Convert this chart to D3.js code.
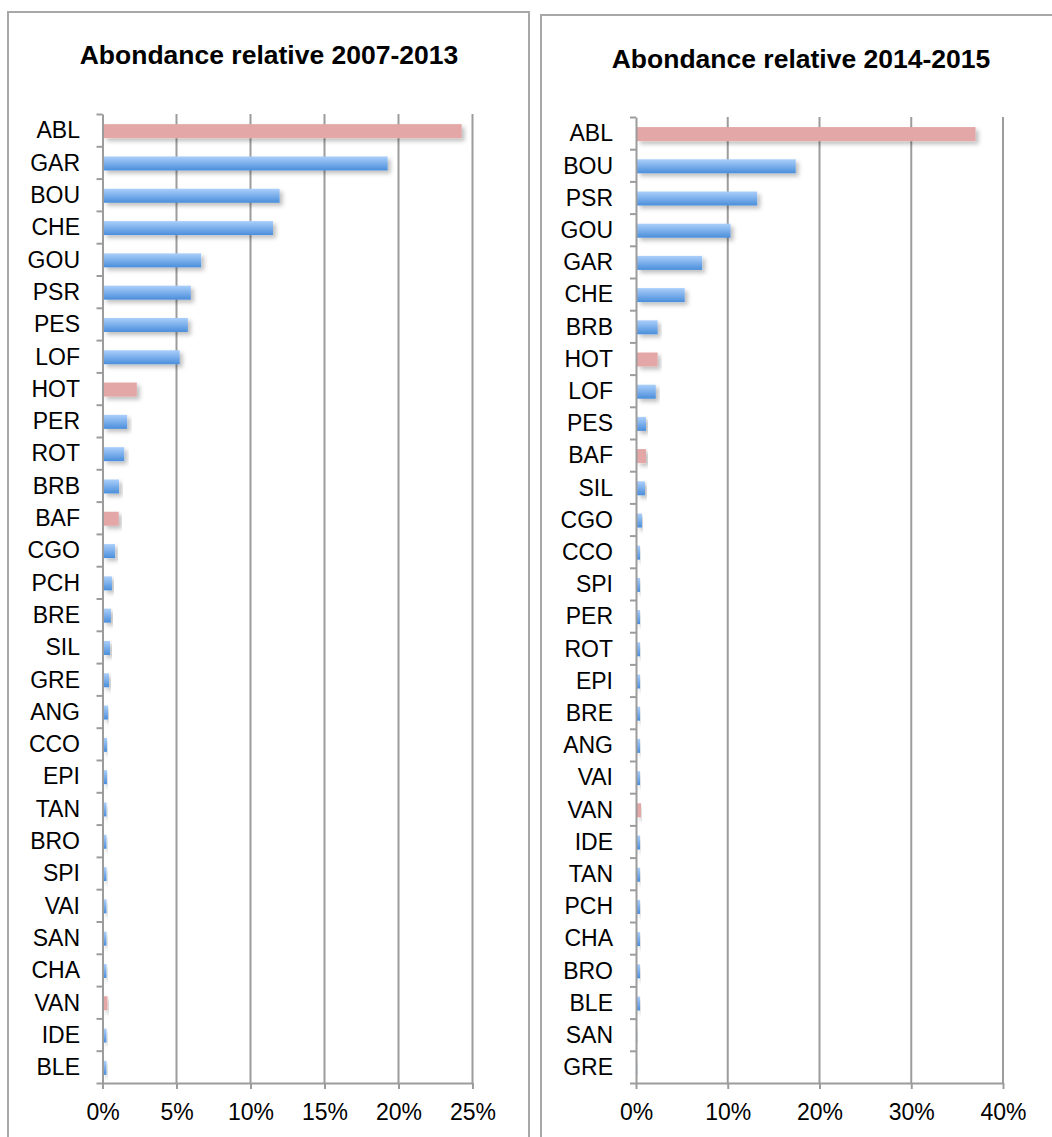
<!DOCTYPE html>
<html><head><meta charset="utf-8">
<script src="https://cdn.jsdelivr.net/npm/d3@7"></script>
<style>body{margin:0;background:#fff}svg{display:block}</style></head>
<body><svg id="c" width="1052" height="1137"></svg>
<script>
// ---- data (values in %) ----
const title1 = "Abondance relative 2007-2013";
const cats1 = ["ABL","GAR","BOU","CHE","GOU","PSR","PES","LOF","HOT","PER","ROT","BRB","BAF","CGO","PCH","BRE","SIL","GRE","ANG","CCO","EPI","TAN","BRO","SPI","VAI","SAN","CHA","VAN","IDE","BLE"];
const vals1 = [24.2,19.2,11.9,11.45,6.6,5.9,5.7,5.15,2.25,1.6,1.4,1.05,1.03,0.78,0.57,0.5,0.44,0.37,0.3,0.24,0.24,0.2,0.2,0.2,0.2,0.2,0.2,0.27,0.2,0.2];
const red1 = ["ABL","HOT","BAF","VAN"];
const ticks1 = [0,5,10,15,20,25];

const title2 = "Abondance relative 2014-2015";
const cats2 = ["ABL","BOU","PSR","GOU","GAR","CHE","BRB","HOT","LOF","PES","BAF","SIL","CGO","CCO","SPI","PER","ROT","EPI","BRE","ANG","VAI","VAN","IDE","TAN","PCH","CHA","BRO","BLE","SAN","GRE"];
const vals2 = [36.9,17.3,13.1,10.2,7.1,5.2,2.25,2.25,2.05,0.98,0.98,0.87,0.54,0.33,0.33,0.33,0.33,0.33,0.33,0.33,0.33,0.44,0.33,0.33,0.33,0.33,0.33,0.33,0.03,0.03];
const red2 = ["ABL","HOT","BAF","VAN"];
const ticks2 = [0,10,20,30,40];

const svg = d3.select("#c");
const defs = svg.append("defs");
const g = defs.append("linearGradient").attr("id","blueGrad").attr("x1",0).attr("y1",0).attr("x2",0).attr("y2",1);
g.append("stop").attr("offset","0%").attr("stop-color","#abcffb");
g.append("stop").attr("offset","100%").attr("stop-color","#4a8edb");
const f = defs.append("filter").attr("id","shadow").attr("x","-20%").attr("y","-50%").attr("width","140%").attr("height","220%");
f.append("feDropShadow").attr("dx",3).attr("dy",3).attr("stdDeviation",2).attr("flood-color","#000").attr("flood-opacity",0.25);

const GRID = "#9c9c9c";
const FONT = "'Liberation Sans', Arial, Helvetica, sans-serif";

function panel(o){
  svg.append("rect").attr("x",o.bx).attr("y",o.by).attr("width",o.bw).attr("height",1200)
    .attr("fill","none").attr("stroke","#a8a8a8").attr("stroke-width",2);
  svg.append("text").attr("x",o.tx).attr("y",o.ty).attr("text-anchor","middle")
    .attr("font-family",FONT).attr("font-weight","bold").attr("font-size",26.5).text(o.title);

  const x = d3.scaleLinear().domain([0, o.ticks[o.ticks.length-1]]).range([o.x0,o.x1]);
  const y = d3.scaleBand().domain(o.cats).range([o.y0,o.y1]).padding(0);
  const yi = d3.scaleLinear().domain([0,o.cats.length]).range([o.y0,o.y1]);

  svg.append("g").selectAll("line").data(o.ticks.slice(1)).join("line")
    .attr("x1",d=>x(d)).attr("x2",d=>x(d)).attr("y1",o.y0).attr("y2",o.y1)
    .attr("stroke",GRID).attr("stroke-width",2);

  const bh = 14;
  svg.append("g").selectAll("rect").data(o.cats.map((c,i)=>({c,v:o.vals[i]}))).join("rect")
    .attr("x",x(0)+1).attr("y",d=>y(d.c)+y.bandwidth()/2-bh/2+1)
    .attr("width",d=>Math.max(0,x(d.v)-x(0)))
    .attr("height",bh)
    .attr("fill",d=>o.red.includes(d.c)?"#e3a7a7":"url(#blueGrad)")
    .attr("filter","url(#shadow)");

  const ya = svg.append("g").attr("transform",`translate(${o.x0},0)`)
    .call(d3.axisLeft(yi).tickValues(d3.range(o.cats.length+1)).tickSize(6).tickFormat("").tickSizeOuter(0));
  ya.selectAll("path,line").attr("stroke",GRID).attr("stroke-width",2);
  svg.append("g").selectAll("text").data(o.cats).join("text")
    .attr("x",o.lx).attr("y",d=>y(d)+y.bandwidth()/2).attr("dy","0.36em")
    .attr("text-anchor","end").attr("font-family",FONT).attr("font-size",23).attr("fill","#000")
    .text(d=>d);

  const xa = svg.append("g").attr("transform",`translate(0,${o.y1})`)
    .call(d3.axisBottom(x).tickValues(o.ticks).tickSize(6).tickPadding(15).tickSizeOuter(0).tickFormat(d=>d+"%"));
  xa.selectAll("path,line").attr("stroke",GRID).attr("stroke-width",2);
  xa.selectAll("text").attr("font-family",FONT).attr("font-size",23).attr("fill","#000");
}

panel({bx:8,by:12,bw:521,tx:269,ty:64,title:title1,cats:cats1,vals:vals1,red:red1,ticks:ticks1,
  x0:102.5,x1:472.5,y0:114,y1:1083,lx:80});
panel({bx:541,by:15,bw:521,tx:801,ty:68,title:title2,cats:cats2,vals:vals2,red:red2,ticks:ticks2,
  x0:636,x1:1003,y0:117,y1:1083,lx:613});
</script>
</body></html>
